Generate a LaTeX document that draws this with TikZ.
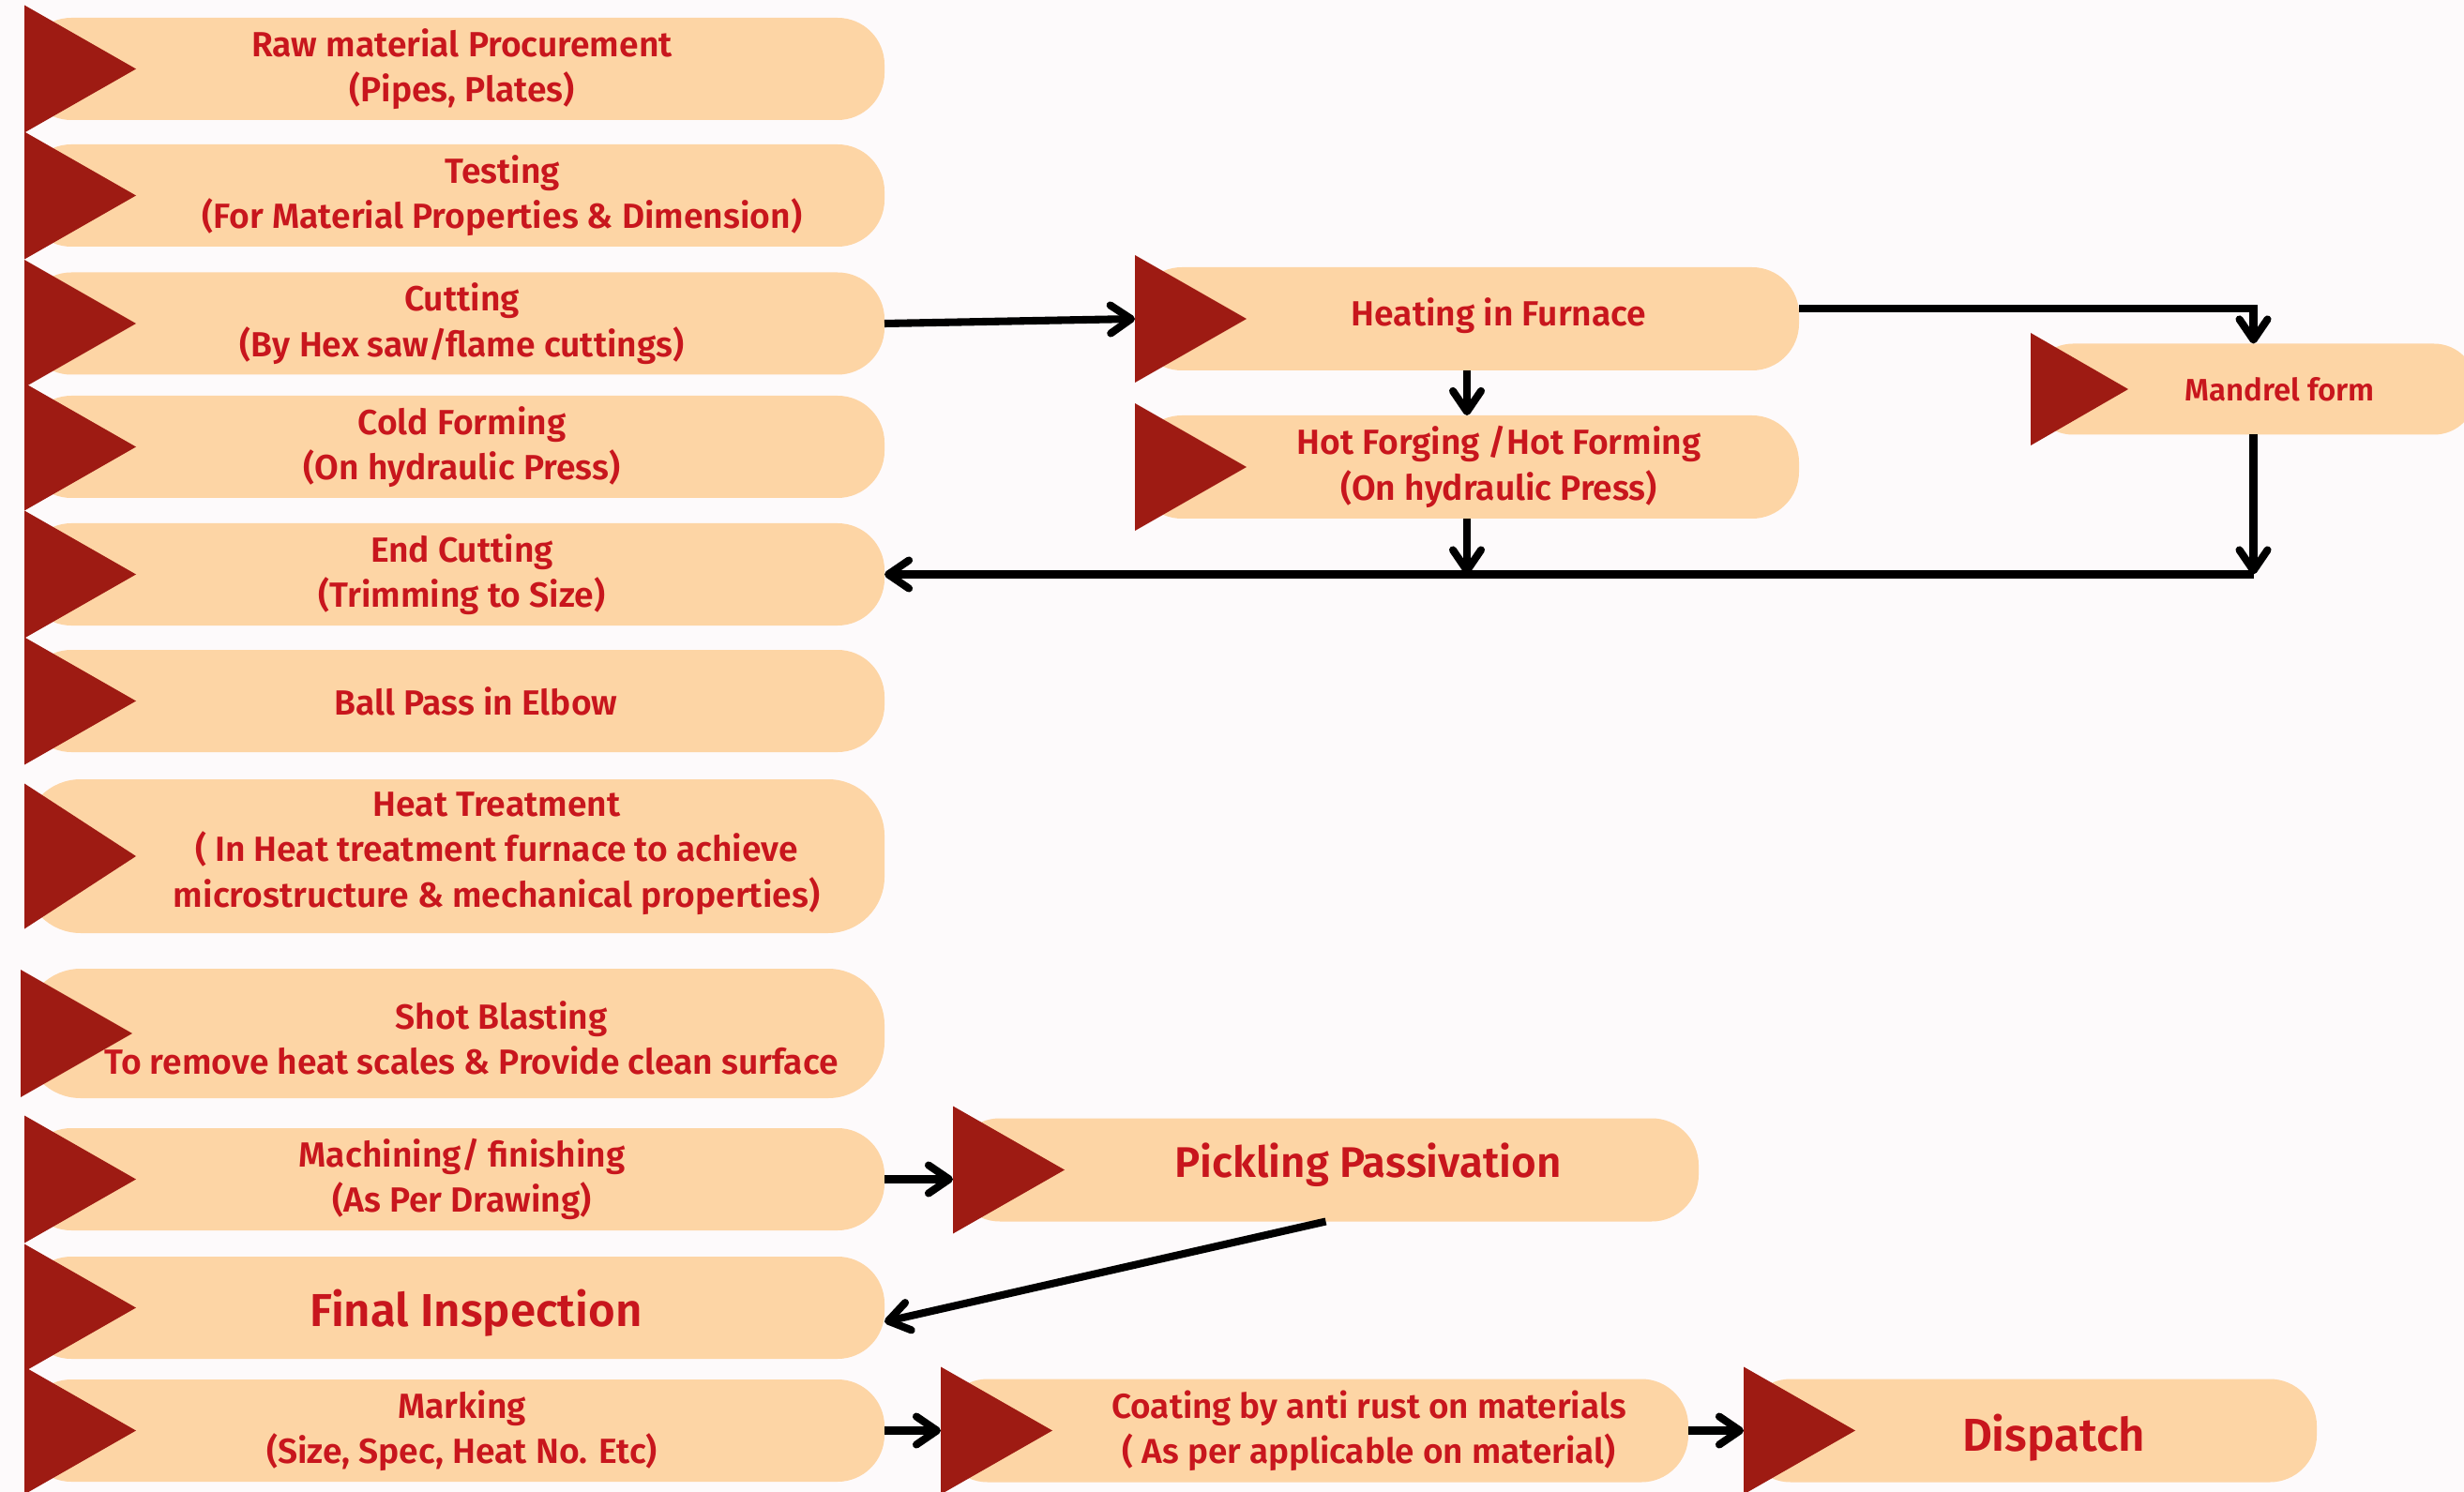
\documentclass[tikz,border=0pt]{standalone}
\usepackage{fontspec}
\setmainfont{Fira Sans}[BoldFont={Fira Sans SemiBold}]
\usetikzlibrary{arrows.meta,positioning,shapes.geometric}

\definecolor{bgpink}{HTML}{FDFAFB}
\definecolor{boxfill}{HTML}{FDD5A5}
\definecolor{tipred}{HTML}{9E1B13}
\definecolor{txtred}{HTML}{C8161D}

\begin{document}
\begin{tikzpicture}[node distance=0.26cm]
\tikzset{
stage/.style = {fill=boxfill, rounded corners=0.5cm, minimum width=9.17cm, minimum height=1.09cm, inner sep=0pt, outer sep=0pt},
pointer/.style = {fill=tipred, isosceles triangle, isosceles triangle stretches, minimum height=1.19cm, minimum width=1.36cm, inner sep=0pt, outer sep=0pt, anchor=west},
steptext/.style = {text=txtred, align=center, font=\bfseries\fontsize{10.6}{13.8}\selectfont},
conn/.style = {line width=2.3pt, -{Straight Barb[length=0.22cm,width=0.3cm,round]}}
}

\fill[bgpink] (0,0) rectangle (26.27,-15.91);
\useasboundingbox (0,0) rectangle (26.27,-15.91);

% left column
\node [stage] (raw) at (4.845,-0.735) {};
\node [stage, below=0.26cm of raw] (testing) {};
\node [stage, below=0.275cm of testing] (cutting) {};
\node [stage, below=0.225cm of cutting] (cold) {};
\node [stage, below=0.27cm of cold] (endcut) {};
\node [stage, below=0.26cm of endcut] (ballpass) {};
\node [stage, below=0.29cm of ballpass, minimum height=1.64cm, rounded corners=0.6cm] (heattreat) {};
\node [stage, below=0.38cm of heattreat, minimum height=1.38cm, rounded corners=0.6cm] (shotblast) {};
\node [stage, below=0.32cm of shotblast] (machining) {};
\node [stage, below=0.28cm of machining] (final) {};
\node [stage, below=0.22cm of final] (marking) {};

% right side
\node [stage, right=2.67cm of cutting, yshift=0.05cm, minimum width=7.08cm, minimum height=1.1cm] (heating) {};
\node [stage, below=0.48cm of heating, minimum width=7.08cm, minimum height=1.1cm] (hotforge) {};
\node [stage, right=2.47cm of heating, yshift=-0.75cm, minimum width=4.75cm, minimum height=0.97cm, rounded corners=0.45cm] (mandrel) {};
\node [stage, right=0.73cm of machining, yshift=0.1cm, minimum width=7.95cm, minimum height=1.1cm] (pickling) {};
\node [stage, right=0.6cm of marking, minimum width=7.97cm, minimum height=1.1cm] (coating) {};
\node [stage, right=0.59cm of coating, minimum width=6.11cm, minimum height=1.1cm] (dispatch) {};

% triangles
\node [pointer] (rawtip) at (raw.west) {};
\node [pointer] (testingtip) at (testing.west) {};
\node [pointer] (cuttingtip) at (cutting.west) {};
\node [pointer] (coldtip) at (cold.west) {};
\node [pointer] (endcuttip) at (endcut.west) {};
\node [pointer] (ballpasstip) at (ballpass.west) {};
\node [pointer, minimum width=1.55cm] (heattreattip) at (heattreat.west) {};
\node [pointer, xshift=-0.04cm] (shotblasttip) at (shotblast.west) {};
\node [pointer] (machiningtip) at (machining.west) {};
\node [pointer] (finaltip) at (final.west) {};
\node [pointer] (markingtip) at (marking.west) {};
\node [pointer] (heatingtip) at (heating.west) {};
\node [pointer] (hotforgetip) at (hotforge.west) {};
\node [pointer, minimum height=1.04cm, minimum width=1.2cm] (mandreltip) at (mandrel.west) {};
\node [pointer] (picklingtip) at (pickling.west) {};
\node [pointer] (coatingtip) at (coating.west) {};
\node [pointer] (dispatchtip) at (dispatch.west) {};

% texts
\node [steptext, xshift=0.08cm] (rawtext) at (raw) {Raw material Procurement\\(Pipes, Plates)};
\node [steptext, xshift=0.51cm] (testingtext) at (testing) {Testing\\(For Material Properties \& Dimension)};
\node [steptext, xshift=0.08cm] (cuttingtext) at (cutting) {Cutting\\(By Hex saw/flame cuttings)};
\node [steptext, xshift=0.08cm] (coldtext) at (cold) {Cold Forming\\(On hydraulic Press)};
\node [steptext, xshift=0.08cm] (endcuttext) at (endcut) {End Cutting\\(Trimming to Size)};
\node [steptext, xshift=0.23cm] (ballpasstext) at (ballpass) {Ball Pass in Elbow};
\node [steptext, xshift=0.45cm, yshift=0.03cm] (heattreattext) at (heattreat) {Heat Treatment\\( In Heat treatment furnace to achieve\\microstructure \& mechanical properties)};
\node [steptext, xshift=0.18cm, yshift=-0.05cm] (shotblasttext) at (shotblast) {\hspace*{0.64cm}Shot Blasting\\To remove heat scales \& Provide clean surface};
\node [steptext, xshift=0.08cm] (machiningtext) at (machining) {Machining/ finishing\\(As Per Drawing)};
\node [steptext, xshift=0.23cm, yshift=-0.06cm, font=\bfseries\fontsize{14}{16}\selectfont] (finaltext) at (final) {Final Inspection};
\node [steptext, xshift=0.08cm] (markingtext) at (marking) {Marking\\(Size, Spec, Heat No. Etc)};
\node [steptext, xshift=0.34cm, yshift=0.03cm] (heatingtext) at (heating) {Heating in Furnace};
\node [steptext, xshift=0.34cm] (hotforgetext) at (hotforge) {Hot Forging /Hot Forming\\(On hydraulic Press)};
\node [steptext, xshift=0.28cm, font=\bfseries\fontsize{9.4}{11}\selectfont] (mandreltext) at (mandrel) {Mandrel form};
\node [steptext, xshift=0.45cm, yshift=0.05cm, font=\bfseries\fontsize{13}{15}\selectfont] (picklingtext) at (pickling) {Pickling Passivation};
\node [steptext, xshift=0.58cm, font=\bfseries\fontsize{10.5}{13.8}\selectfont] (coatingtext) at (coating) {Coating by anti rust on materials\\( As per applicable on material)};
\node [steptext, xshift=0.25cm, yshift=-0.08cm, font=\bfseries\fontsize{14}{16}\selectfont] (dispatchtext) at (dispatch) {Dispatch};

% connectors
\coordinate (merge) at (mandrel.south |- endcut.east);
\draw [conn] (cutting.east) -- (heatingtip.west);
\draw [conn] ([yshift=0.11cm]heating.east) -| (mandrel.north);
\draw [conn] (heating.south) -- (hotforge.north);
\draw [conn] (hotforge.south) -- (hotforge.south |- endcut.east);
\draw [conn] (mandrel.south) -- (merge);
\draw [conn] (merge) -- (endcut.east);
\draw [conn] (machining.east) -- (machining.east -| picklingtip.west);
\draw [conn] (pickling.south) -- ([yshift=-0.15cm]final.east);
\draw [conn] (marking.east) -- (coatingtip.west);
\draw [conn] (coating.east) -- (dispatchtip.west);
\end{tikzpicture}
\end{document}
